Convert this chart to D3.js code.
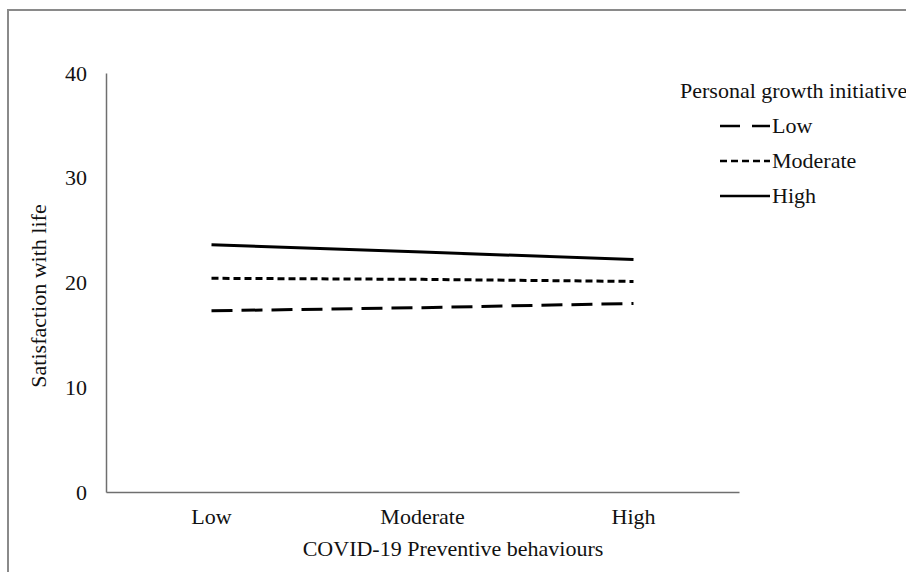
<!DOCTYPE html>
<html>
<head>
<meta charset="utf-8">
<script src="https://cdn.jsdelivr.net/npm/d3@7"></script>
<style>
  html, body { margin: 0; padding: 0; background: #fff; }
  svg text { font-family: "Liberation Serif", "Times New Roman", serif !important; }
</style>
</head>
<body>
<svg id="chart" width="906" height="572"></svg>
<script>
// ---- data ----
const categories = ["Low", "Moderate", "High"];
const seriesNames = ["Low", "Moderate", "High"];
const lowValues = [17.3, 17.6, 18.0];
const moderateValues = [20.4, 20.3, 20.1];
const highValues = [23.6, 22.9, 22.2];
const yTicks = [0, 10, 20, 30, 40];
const xTitle = "COVID-19 Preventive behaviours";
const yTitle = "Satisfaction with life";
const legendTitle = "Personal growth initiative";

const series = [
  { name: seriesNames[0], values: lowValues, dash: "21,9", legendDash: "20,12" },
  { name: seriesNames[1], values: moderateValues, dash: "7,4", legendDash: "7,4" },
  { name: seriesNames[2], values: highValues, dash: null, legendDash: null }
];

const FS = 22;
const svg = d3.select("#chart");

// outer frame
svg.append("path")
  .attr("d", "M8,572 L8,10 L906,10")
  .attr("fill", "none")
  .attr("stroke", "#8a8a8a")
  .attr("stroke-width", 2);

const plot = { left: 106, right: 739, top: 73, bottom: 492 };

const x = d3.scaleBand().domain(categories).range([plot.left, plot.right]);
const y = d3.scaleLinear().domain([0, 40]).range([plot.bottom, plot.top]);

// axes
const yAxis = d3.axisLeft(y).tickValues(yTicks).tickSize(0).tickPadding(19);
const gy = svg.append("g").attr("transform", `translate(${plot.left},0)`).call(yAxis);
gy.attr("font-family", null).attr("font-size", null);
gy.select(".domain").attr("stroke", "#6f6f6f").attr("stroke-width", 1.5);
gy.selectAll("text").attr("font-size", FS).attr("fill", "#111");

const xAxis = d3.axisBottom(x).tickSize(0).tickPadding(16);
const gx = svg.append("g").attr("transform", `translate(0,${plot.bottom})`).call(xAxis);
gx.attr("font-family", null).attr("font-size", null);
gx.select(".domain").attr("stroke", "#6f6f6f").attr("stroke-width", 1.5);
gx.selectAll("text").attr("font-size", FS).attr("fill", "#111");

// axis titles
svg.append("text")
  .attr("x", 453)
  .attr("y", 556)
  .attr("text-anchor", "middle")
  .attr("font-size", FS)
  .attr("fill", "#111")
  .text(xTitle);

svg.append("text")
  .attr("transform", `translate(46,296) rotate(-90)`)
  .attr("text-anchor", "middle")
  .attr("font-size", FS)
  .attr("fill", "#111")
  .text(yTitle);

// lines
const line = d3.line()
  .x((d, i) => x(categories[i]) + x.bandwidth() / 2)
  .y(d => y(d));

svg.append("g").selectAll("path")
  .data(series)
  .join("path")
  .attr("d", d => line(d.values))
  .attr("fill", "none")
  .attr("stroke", "#000")
  .attr("stroke-width", 3)
  .attr("stroke-dasharray", d => d.dash);

// legend
const lg = svg.append("g");
lg.append("text")
  .attr("x", 680)
  .attr("y", 98)
  .attr("font-size", FS)
  .attr("fill", "#111")
  .text(legendTitle);

const items = lg.selectAll("g.item")
  .data(series)
  .join("g")
  .attr("class", "item")
  .attr("transform", (d, i) => `translate(0,${126 + i * 35})`);

items.append("line")
  .attr("x1", 720).attr("x2", 770)
  .attr("y1", 0).attr("y2", 0)
  .attr("stroke", "#000")
  .attr("stroke-width", 2.5)
  .attr("stroke-dasharray", d => d.legendDash);

items.append("text")
  .attr("x", 772)
  .attr("y", 7)
  .attr("font-size", FS)
  .attr("fill", "#111")
  .text(d => d.name);
</script>
</body>
</html>
